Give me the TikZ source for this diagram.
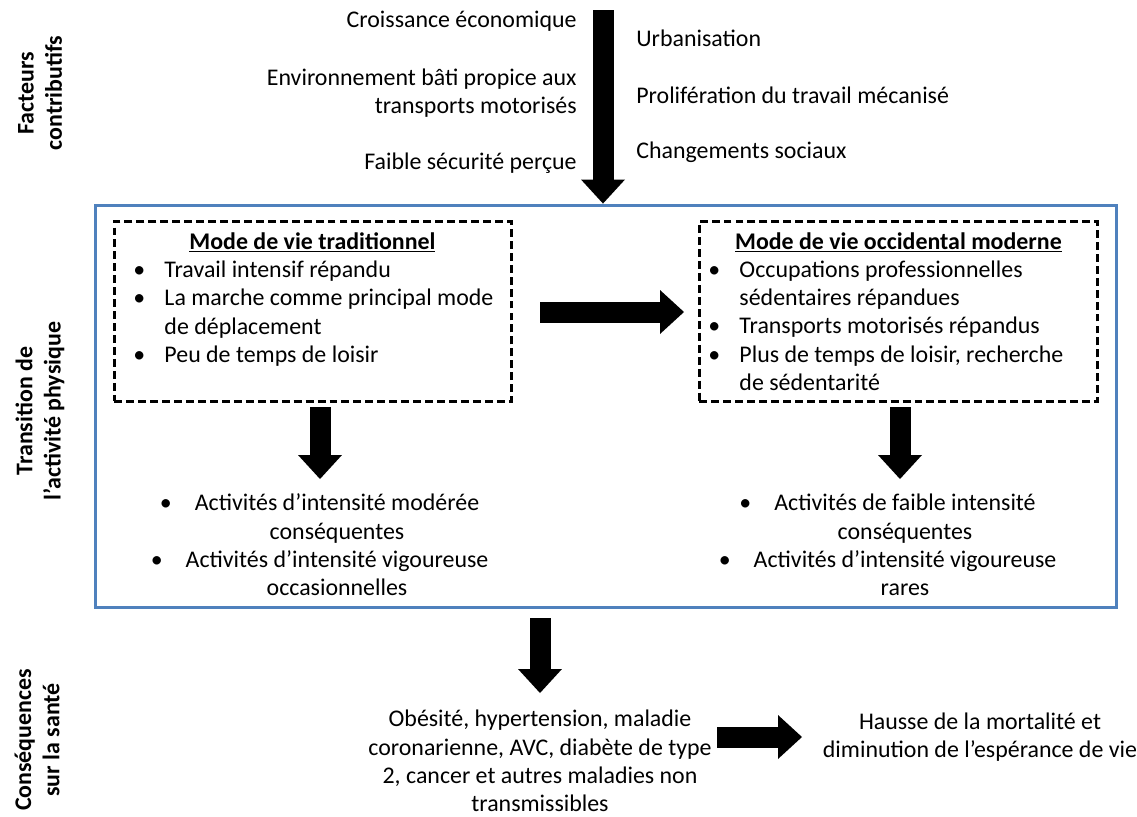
\documentclass[tikz,border=0pt]{standalone}
\usepackage{fontspec}
\setmainfont{Carlito}
\usepackage{tikz}
\usetikzlibrary{arrows.meta}
\definecolor{bleucadre}{RGB}{79,129,189}
\newcommand{\taille}{\fontsize{13.6pt}{16.1pt}\selectfont}
\newcommand{\puce}{\makebox[0.64cm][l]{\hspace{0.02cm}\textbullet}}
\newcommand{\retrait}{\hspace*{0.64cm}}
\newcommand{\pointe}{\makebox[0pt][r]{\textbullet\hspace{0.46cm}}}

\begin{document}
\begin{tikzpicture}[x=0.02cm, y=-0.02cm,
    every node/.style={font=\taille, inner sep=0pt},
    cote/.style={rotate=90, align=center, font=\taille\bfseries},
    tirets/.style={draw, line width=1.7pt, dash pattern=on 4.5pt off 2.3pt, anchor=north west, align=left, inner ysep=0pt, minimum height=3.6cm},
    fleche/.style={line width=0.42cm, -{Triangle[line width=0pt, length=0.48cm, width=0.88cm]}}]
    \useasboundingbox (0,0) rectangle (1137,816);

    \node[cote] (facteurs) at (40,93) {Facteurs\\contributifs};
    \node[cote] (activite) at (40,411) {Transition de\\l’activité physique};
    \node[cote] (sante) at (37,740) {Conséquences\\sur la santé};

    \node[anchor=east] (croissance) at (577,21) {Croissance économique};
    \node[anchor=east, align=right] (environnement) at (577,93) {Environnement bâti propice aux\\transports motorisés};
    \node[anchor=east] (securite) at (577,163) {Faible sécurité perçue};
    \node[anchor=west] (urbanisation) at (636,38) {Urbanisation};
    \node[anchor=west] (mecanisation) at (636,95) {Prolifération du travail mécanisé};
    \node[anchor=west] (social) at (636,152) {Changements sociaux};

    \node[draw=bleucadre, line width=1.7pt, minimum width=20.44cm, minimum height=8.06cm] (transition) at (606,406.5) {};

    \node[tirets, inner xsep=0.36cm] (traditionnel) at (113,220) {\makebox[7.2cm]{\underline{\textbf{Mode de vie traditionnel}}}\\
        \puce Travail intensif répandu\\
        \puce La marche comme principal mode\\
        \retrait de déplacement\\
        \puce Peu de temps de loisir\\
        \mbox{}};
    \node[tirets, inner xsep=0.16cm] (moderne) at (698,220) {\makebox[7.64cm]{\underline{\textbf{Mode de vie occidental moderne}}}\\
        \puce Occupations professionnelles\\
        \retrait sédentaires répandues\\
        \puce Transports motorisés répandus\\
        \puce Plus de temps de loisir, recherche\\
        \retrait de sédentarité};

    \node[align=center] (moderees) at (337,545) {\pointe Activités d’intensité modérée\\conséquentes\\\pointe Activités d’intensité vigoureuse\\occasionnelles};
    \node[align=center] (faibles) at (905,545) {\pointe Activités de faible intensité\\conséquentes\\\pointe Activités d’intensité vigoureuse\\rares};

    \node[align=center] (maladies) at (540,761) {Obésité, hypertension, maladie\\coronarienne, AVC, diabète de type\\2, cancer et autres maladies non\\transmissibles};
    \node[align=center] (mortalite) at (980,737) {Hausse de la mortalité et\\diminution de l’espérance de vie};

    \coordinate (hautdebut) at (603,10);
    \coordinate (milieudebut) at (540,312);
    \coordinate (milieufin) at (684,312);
    \coordinate (gauchedebut) at (320,407);
    \coordinate (gauchefin) at (320,479);
    \coordinate (droitedebut) at (900,407);
    \coordinate (droitefin) at (900,479);
    \coordinate (basdebut) at (540,618);
    \coordinate (basfin) at (540,693);
    \coordinate (finaledebut) at (717,737);
    \coordinate (finalefin) at (802,737);

    \draw[fleche] (hautdebut) -- (hautdebut |- transition.north);
    \draw[fleche] (milieudebut) -- (milieufin);
    \draw[fleche] (gauchedebut) -- (gauchefin);
    \draw[fleche] (droitedebut) -- (droitefin);
    \draw[fleche] (basdebut) -- (basfin);
    \draw[fleche] (finaledebut) -- (finalefin);
\end{tikzpicture}
\end{document}
